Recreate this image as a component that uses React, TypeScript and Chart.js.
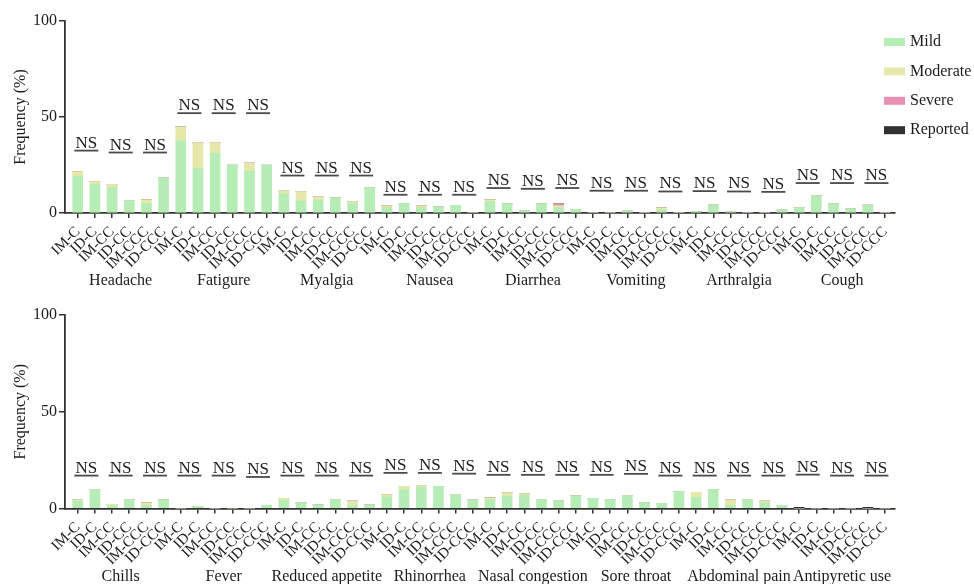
import React, { useEffect, useRef } from 'react';
import { Chart, registerables } from 'chart.js';

Chart.register(...registerables);

const FONT = '"Liberation Serif", "Times New Roman", serif';
const INK = '#1c1c1c';
const AXIS = '#333333';

// Condition labels repeated under every symptom group
const tickLabels = ['IM-C', 'ID-C', 'IM-CC', 'ID-CC', 'IM-CCC', 'ID-CCC'];
const yTicks = [0, 50, 100];

const severityLabels = ['Mild', 'Moderate', 'Severe', 'Reported'];
const severityColors = ['#b6edb6', '#e6e8a9', '#e88fb5', '#303030'];

// Upper panel
const topSymptoms = ['Headache', 'Fatigure', 'Myalgia', 'Nausea', 'Diarrhea', 'Vomiting', 'Arthralgia', 'Cough'];
const topMild = [
  19.0, 14.9, 13.3, 6.4, 5.0, 18.2,
  37.7, 23.2, 31.1, 24.9, 21.8, 24.9,
  10.0, 6.2, 6.7, 7.9, 5.0, 13.3,
  2.9, 5.0, 2.9, 3.1, 4.0, 0,
  5.9, 4.8, 1.2, 4.8, 2.8, 1.9,
  0, 0, 1.2, 0, 1.7, 0,
  0.8, 4.3, 0.8, 0, 0, 1.5,
  2.8, 9.0, 4.7, 2.2, 4.1, 0,
];
const topModerate = [
  2.6, 1.5, 1.6, 0, 1.9, 0,
  7.1, 13.5, 5.6, 0, 4.2, 0,
  1.4, 5.0, 1.6, 0, 1.0, 0,
  0.9, 0, 0.9, 0, 0, 0,
  1.0, 0, 0, 0, 1.0, 0,
  0, 0, 0, 0, 1.0, 0,
  0, 0, 0, 0, 0, 0,
  0, 0, 0, 0, 0, 0,
];
const topSevere = [
  0, 0, 0, 0, 0, 0,
  0, 0, 0, 0, 0, 0,
  0, 0, 0, 0, 0, 0,
  0, 0, 0, 0, 0, 0,
  0, 0, 0, 0, 1.0, 0,
  0, 0, 0, 0, 0, 0,
  0, 0, 0, 0, 0, 0,
  0, 0, 0, 0, 0, 0,
];
const topReported = [
  0, 0, 0, 0, 0, 0,
  0, 0, 0, 0, 0, 0,
  0, 0, 0, 0, 0, 0,
  0, 0, 0, 0, 0, 0,
  0, 0, 0, 0, 0, 0,
  0, 0, 0, 0, 0, 0,
  0, 0, 0, 0, 0, 0,
  0, 0, 0, 0, 0, 0,
];
// Height (%) of each "NS" bracket, one per pair of bars
const topNs = [
  32.5, 31.5, 31.5,
  52, 52, 52,
  19.5, 19.5, 19.5,
  9.5, 9.5, 9.5,
  13, 12.6, 13,
  11.6, 11.6, 11.2,
  11.4, 11.2, 11.0,
  15.6, 15.6, 15.6,
];

// Lower panel
const bottomSymptoms = ['Chills', 'Fever', 'Reduced appetite', 'Rhinorrhea', 'Nasal congestion', 'Sore throat', 'Abdominal pain', 'Antipyretic use'];
const bottomMild = [
  3.8, 9.8, 1.5, 4.6, 1.7, 4.3,
  0, 1.0, 0, 0, 0, 1.7,
  4.3, 2.9, 1.9, 4.6, 1.5, 1.9,
  6.0, 9.8, 11.0, 11.5, 7.2, 4.3,
  4.6, 6.4, 6.9, 4.6, 3.8, 6.5,
  5.2, 4.6, 6.7, 2.9, 2.7, 8.9,
  5.8, 9.8, 1.7, 4.6, 2.9, 1.7,
  0, 0, 0, 0, 0, 0,
];
const bottomModerate = [
  0.8, 0, 0.6, 0, 1.2, 0,
  0, 0, 0, 0, 0, 0,
  0.9, 0, 0, 0, 2.3, 0,
  1.2, 1.7, 0.9, 0, 0, 0,
  0.9, 1.8, 0.8, 0, 0, 0,
  0, 0, 0, 0, 0, 0,
  2.6, 0, 2.6, 0, 0.9, 0,
  0, 0, 0, 0, 0, 0,
];
const bottomSevere = [
  0, 0, 0, 0, 0, 0,
  0, 0, 0, 0, 0, 0,
  0, 0, 0, 0, 0, 0,
  0, 0, 0, 0, 0, 0,
  0, 0, 0, 0, 0, 0,
  0, 0, 0, 0, 0, 0,
  0, 0, 0, 0, 0, 0,
  0, 0, 0, 0, 0, 0,
];
const bottomReported = [
  0, 0, 0, 0, 0, 0,
  0, 0, 0, 0, 0, 0,
  0, 0, 0, 0, 0, 0,
  0, 0, 0, 0, 0, 0,
  0, 0, 0, 0, 0, 0,
  0, 0, 0, 0, 0, 0,
  0, 0, 0, 0, 0, 0,
  0.6, 0, 0, 0, 0.6, 0,
];
const bottomNs = [
  17, 17, 17,
  17, 17, 16.3,
  17, 17, 17,
  18.4, 18.4, 18,
  17.4, 17.4, 17.4,
  17.4, 17.9, 17,
  17, 17, 17,
  17.5, 17, 17,
];

type PanelSpec = {
  series: number[][];
  groups: string[];
  ns: number[];
  padTop: number;
  axisHeight: number;
  legend: boolean;
};

// Draws the NS brackets, the symptom names under each group and the legend
function makeDecorations(spec: PanelSpec) {
  return {
    id: 'decorations',
    afterDraw(chart: any) {
      const { ctx, chartArea } = chart;
      const x = chart.scales.x;
      const y = chart.scales.y;
      ctx.save();
      ctx.textAlign = 'center';
      ctx.textBaseline = 'alphabetic';
      spec.ns.forEach((h, k) => {
        const cx = (x.getPixelForValue(2 * k) + x.getPixelForValue(2 * k + 1)) / 2;
        const py = y.getPixelForValue(h);
        ctx.fillStyle = INK;
        ctx.font = `17px ${FONT}`;
        ctx.fillText('NS', cx, py - 3);
        ctx.strokeStyle = '#4a4a4a';
        ctx.lineWidth = 1.8;
        ctx.beginPath();
        ctx.moveTo(cx - 12, py);
        ctx.lineTo(cx + 12, py);
        ctx.stroke();
      });

      ctx.fillStyle = INK;
      ctx.font = `16px ${FONT}`;
      ctx.textBaseline = 'middle';
      spec.groups.forEach((name, g) => {
        const cx = (x.getPixelForValue(6 * g) + x.getPixelForValue(6 * g + 5)) / 2;
        ctx.fillText(name, cx, chartArea.bottom + 68);
      });

      if (spec.legend) {
        ctx.textAlign = 'left';
        severityLabels.forEach((label, i) => {
          const cy = 42 + i * 29.4;
          ctx.fillStyle = severityColors[i];
          ctx.fillRect(884, cy - 4, 21, 8);
          ctx.fillStyle = INK;
          ctx.fillText(label, 910, cy);
        });
      }
      ctx.restore();
    },
  };
}

function makeConfig(spec: PanelSpec): any {
  const count = spec.series[0].length;
  return {
    type: 'bar',
    data: {
      datasets: spec.series.map((values, s) => ({
        label: severityLabels[s],
        data: values.map((v, i) => ({ x: i, y: v })),
        backgroundColor: severityColors[s],
        borderWidth: 0,
        barThickness: 10,
      })),
    },
    options: {
      responsive: false,
      animation: false,
      layout: { padding: { top: spec.padTop, right: 79, bottom: 0, left: 0 } },
      plugins: { legend: { display: false }, tooltip: { enabled: false } },
      scales: {
        x: {
          type: 'linear',
          offset: false,
          stacked: true,
          min: -0.74,
          max: count - 1 + 0.58,
          afterBuildTicks: (s: any) => {
            s.ticks = spec.series[0].map((_, i) => ({ value: i }));
          },
          afterFit: (s: any) => {
            s.height = spec.axisHeight;
          },
          ticks: {
            autoSkip: false,
            minRotation: 45,
            maxRotation: 45,
            padding: 5,
            color: INK,
            font: { family: FONT, size: 15 },
            callback: (v: number) => tickLabels[v % tickLabels.length],
          },
          grid: { display: true, offset: false, drawOnChartArea: false, drawTicks: true, tickLength: 5, color: AXIS, lineWidth: 1.5 },
          border: { display: true, color: AXIS, width: 1.8 },
        },
        y: {
          stacked: true,
          min: 0,
          max: 100,
          afterBuildTicks: (s: any) => {
            s.ticks = yTicks.map((v) => ({ value: v }));
          },
          afterFit: (s: any) => {
            s.width = 65;
          },
          ticks: { color: INK, padding: 2, font: { family: FONT, size: 16 } },
          grid: { display: true, drawOnChartArea: false, drawTicks: true, tickLength: 6, color: AXIS, lineWidth: 1.5 },
          border: { display: true, color: AXIS, width: 1.8 },
          title: {
            display: true,
            text: 'Frequency (%)',
            color: INK,
            font: { family: FONT, size: 16 },
            padding: { top: 11, bottom: 0 },
          },
        },
      },
    },
    plugins: [makeDecorations(spec)],
  };
}

const topSpec: PanelSpec = {
  series: [topMild, topModerate, topSevere, topReported],
  groups: topSymptoms,
  ns: topNs,
  padTop: 21,
  axisHeight: 79,
  legend: true,
};

const bottomSpec: PanelSpec = {
  series: [bottomMild, bottomModerate, bottomSevere, bottomReported],
  groups: bottomSymptoms,
  ns: bottomNs,
  padTop: 23,
  axisHeight: 75.5,
  legend: false,
};

function Panel({ spec }: { spec: PanelSpec }) {
  const ref = useRef<HTMLCanvasElement | null>(null);
  useEffect(() => {
    if (!ref.current) return;
    const chart = new Chart(ref.current, makeConfig(spec));
    return () => chart.destroy();
  }, [spec]);
  return <canvas ref={ref} width={974} height={292} style={{ display: 'block', width: 974, height: 292 }} />;
}

export default function App() {
  return (
    <div style={{ position: 'absolute', left: 0, top: 0, width: 974, height: 584, background: '#ffffff' }}>
      <Panel spec={topSpec} />
      <Panel spec={bottomSpec} />
    </div>
  );
}
